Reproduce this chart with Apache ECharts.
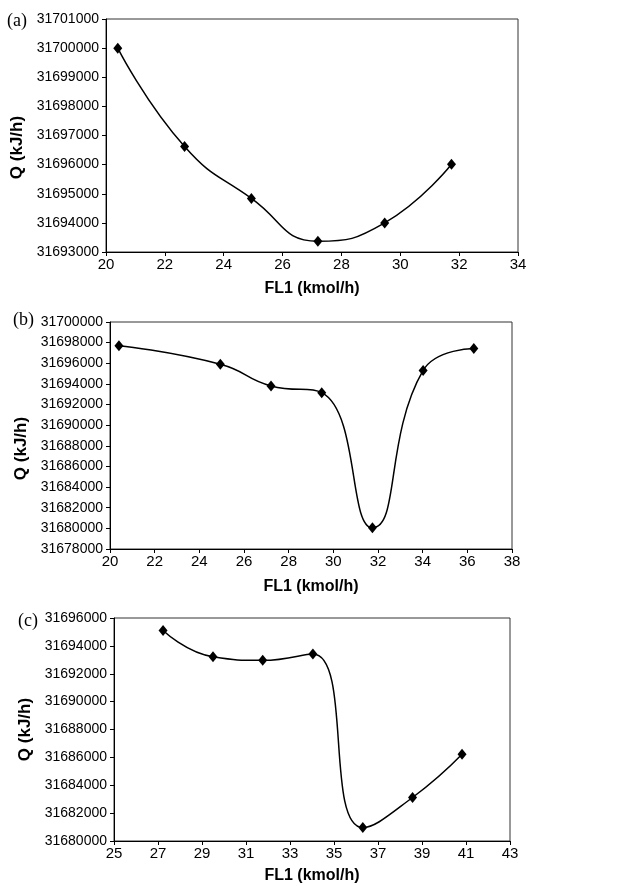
<!DOCTYPE html>
<html>
<head>
<meta charset="utf-8">
<script src="https://cdn.jsdelivr.net/npm/echarts@6/dist/echarts.min.js"></script>
<style>html,body{margin:0;padding:0;background:#fff}#c{width:627px;height:886px}</style>
</head>
<body>
<div id="c"></div>
<script>
// Panel (a)
var xA = [20.4, 22.67, 24.94, 27.2, 29.47, 31.74];
var qA = [31700000, 31696620, 31694840, 31693370, 31694000, 31696010];
var xTicksA = [20, 22, 24, 26, 28, 30, 32, 34];
var yTicksA = [31693000, 31694000, 31695000, 31696000, 31697000, 31698000, 31699000, 31700000, 31701000];
// Panel (b)
var xB = [20.4, 24.94, 27.21, 29.48, 31.75, 34.02, 36.29];
var qB = [31697700, 31695900, 31693800, 31693150, 31680050, 31695300, 31697420];
var xTicksB = [20, 22, 24, 26, 28, 30, 32, 34, 36, 38];
var yTicksB = [31678000, 31680000, 31682000, 31684000, 31686000, 31688000, 31690000, 31692000, 31694000, 31696000, 31698000, 31700000];
// Panel (c)
var xC = [27.23, 29.5, 31.76, 34.04, 36.31, 38.57, 40.82];
var qC = [31695100, 31693220, 31692960, 31693420, 31680960, 31683120, 31686220];
var xTicksC = [25, 27, 29, 31, 33, 35, 37, 39, 41, 43];
var yTicksC = [31680000, 31682000, 31684000, 31686000, 31688000, 31690000, 31692000, 31694000, 31696000];

var panelLabels = ['(a)', '(b)', '(c)'];
var xName = 'FL1 (kmol/h)';
var yName = 'Q (kJ/h)';

function pairs(xs, ys) { return xs.map(function (x, i) { return [x, ys[i]]; }); }

var font = 'Liberation Sans, Arial, sans-serif';
var grids = [
  {left: 106, top: 19, width: 412, height: 233},
  {left: 110, top: 322, width: 402, height: 227},
  {left: 114, top: 618, width: 396, height: 223}
];
grids.forEach(function (g) { g.show = true; g.borderColor = '#333'; g.borderWidth = 1; g.backgroundColor = '#fff'; });

var xTicks = [xTicksA, xTicksB, xTicksC];
var yTicks = [yTicksA, yTicksB, yTicksC];
var xGaps = [29, 30, 27];
var yGaps = [80, 77, 79];
var yPads = [[0, 24, 0, 0], [0, 26, 0, 0], [0, 0, 0, 0]];

var xAxes = xTicks.map(function (t, i) {
  return {
    type: 'value', gridIndex: i, min: t[0], max: t[t.length - 1],
    name: xName, nameLocation: 'middle', nameGap: xGaps[i],
    nameTextStyle: {fontFamily: font, fontWeight: 'bold', fontSize: 16, color: '#000'},
    axisLine: {show: true, lineStyle: {color: '#000', width: 1}},
    axisTick: {show: true, length: 4, inside: false, customValues: t, lineStyle: {color: '#000'}},
    axisLabel: {customValues: t, margin: 5, fontFamily: font, fontSize: 15, color: '#000',
      formatter: function (v) { return String(v); }},
    splitLine: {show: false}
  };
});
var yAxes = yTicks.map(function (t, i) {
  return {
    type: 'value', gridIndex: i, min: t[0], max: t[t.length - 1],
    name: yName, nameLocation: 'middle', nameGap: yGaps[i], nameRotate: 90,
    nameTextStyle: {fontFamily: font, fontWeight: 'bold', fontSize: 17, color: '#000', padding: yPads[i]},
    axisLine: {show: true, lineStyle: {color: '#000', width: 1}},
    axisTick: {show: true, length: 4, inside: false, customValues: t, lineStyle: {color: '#000'}},
    axisLabel: {customValues: t, margin: 7, fontFamily: font, fontSize: 14, color: '#000',
      formatter: function (v) { return String(v); }},
    splitLine: {show: false}
  };
});

var datasets = [pairs(xA, qA), pairs(xB, qB), pairs(xC, qC)];
var series = datasets.map(function (d, i) {
  return {
    type: 'line', xAxisIndex: i, yAxisIndex: i, data: d,
    smooth: 0.5, symbol: 'diamond', symbolSize: [9, 11],
    itemStyle: {color: '#000'}, lineStyle: {color: '#000', width: 1.5},
    animation: false
  };
});

var labelPos = [[7, 12], [13, 311], [18, 612]];
var graphics = panelLabels.map(function (t, i) {
  return {type: 'text', left: labelPos[i][0], top: labelPos[i][1],
    style: {text: t, font: '18px "Liberation Serif", "Times New Roman", serif', fill: '#000'}};
});

var chart = echarts.init(document.getElementById('c'), null, {renderer: 'canvas'});
chart.setOption({
  animation: false,
  backgroundColor: '#fff',
  grid: grids,
  xAxis: xAxes,
  yAxis: yAxes,
  series: series,
  graphic: graphics
});
</script>
</body>
</html>
